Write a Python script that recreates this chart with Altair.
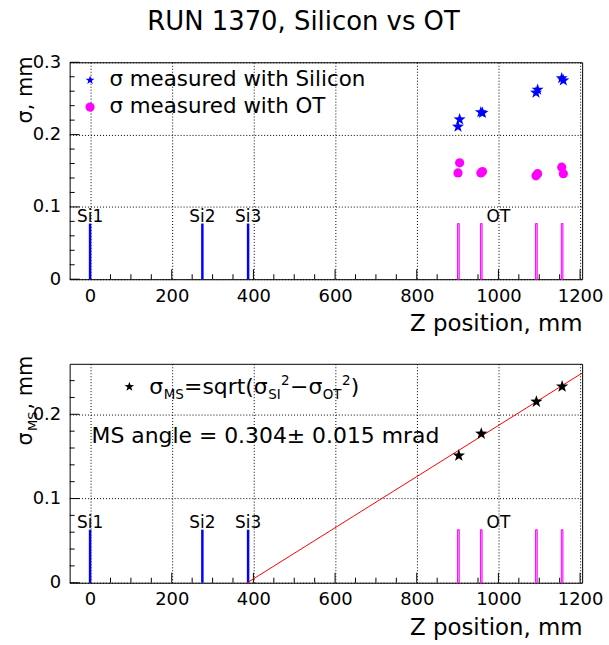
import altair as alt
import pandas as pd

# ---------------- data ----------------
si_names = ["Si1", "Si2", "Si3"]
si_z = [0, 275, 387]
ot_name = "OT"
ot_label_z = 1000
ot_z_start = [900, 956, 1091, 1154]
ot_z_end = [904, 960, 1095, 1158]
meas_z = [901, 905, 957, 961, 1092, 1096, 1155, 1159]
sigma_si = [0.211, 0.221, 0.231, 0.230, 0.258, 0.262, 0.278, 0.275]
sigma_ot = [0.147, 0.161, 0.147, 0.149, 0.143, 0.146, 0.155, 0.146]
ms_z = [903, 958, 1093, 1156]
sigma_ms = [0.151, 0.177, 0.215, 0.233]
fit_z = [385, 1205]
fit_sigma = [0.0, 0.249]
x_major = [0, 200, 400, 600, 800, 1000, 1200]
x_minor = [50, 100, 150, 250, 300, 350, 450, 500, 550, 650, 700, 750,
           850, 900, 950, 1050, 1100, 1150]
y_major_top = [0, 0.1, 0.2, 0.3]
y_minor_top = [0.02, 0.04, 0.06, 0.08, 0.12, 0.14, 0.16, 0.18, 0.22, 0.24, 0.26, 0.28]
y_major_bot = [0, 0.1, 0.2]
y_minor_bot = [0.02, 0.04, 0.06, 0.08, 0.12, 0.14, 0.16, 0.18, 0.22, 0.24]
det_h_top = 0.077
det_h_bot = 0.063
title_text = "RUN 1370, Silicon vs OT"
legend_si = "σ measured with Silicon"
legend_ot = "σ measured with OT"
angle_text = "MS angle = 0.304± 0.015 mrad"
xtitle = "Z position, mm"

# ---------------- style ----------------
FONT = "DejaVu Sans"
W = 515
H1 = 218
H2 = 220
BLUE = "#0000ff"
MAG = "#ff00ff"
STAR = ("M0,-1L0.235,-0.324L0.951,-0.309L0.38,0.124L0.588,0.809L0,0.4"
        "L-0.588,0.809L-0.38,0.124L-0.951,-0.309L-0.235,-0.324Z")

xscale = alt.Scale(domain=[-50, 1205], nice=False, zero=False)
x_axis = alt.Axis(values=x_major, format="d", title=xtitle, titleAnchor="end",
                  grid=True, gridDash=[1, 2], gridColor="black", gridOpacity=1,
                  ticks=False, domain=False, labelPadding=8, titlePadding=8,
                  labelFontSize=18, titleFontSize=23, labelFont=FONT, titleFont=FONT,
                  labelColor="black", titleColor="black", titleFontWeight="normal",
                  labelFlush=False)


def y_axis(vals):
    return alt.Axis(values=vals, format="~g", title=None, grid=True, gridDash=[1, 2],
                    gridColor="black", gridOpacity=1, ticks=False, domain=False,
                    labelPadding=9, labelFontSize=18, labelFont=FONT, labelColor="black",
                    labelFlush=False)


def X():
    return alt.X("z:Q", scale=xscale, axis=x_axis)


def panel(H, ydom, ymaj, ymin, det_h):
    ys = alt.Scale(domain=ydom, nice=False, zero=False)

    def Y():
        return alt.Y("s:Q", scale=ys, axis=y_axis(ymaj))

    layers = []
    # inner ticks
    layers.append(alt.Chart(pd.DataFrame({"z": x_major})).mark_rule(color="black").encode(
        x=X(), y=alt.value(H), y2=alt.value(H - 10)))
    layers.append(alt.Chart(pd.DataFrame({"z": x_minor})).mark_rule(color="black").encode(
        x=X(), y=alt.value(H), y2=alt.value(H - 5)))
    layers.append(alt.Chart(pd.DataFrame({"s": ymaj})).mark_rule(color="black").encode(
        y=Y(), x=alt.value(0), x2=alt.value(10)))
    layers.append(alt.Chart(pd.DataFrame({"s": ymin})).mark_rule(color="black").encode(
        y=Y(), x=alt.value(0), x2=alt.value(5)))
    # detectors
    si_df = pd.DataFrame({"z": si_z, "s": [det_h] * len(si_z), "name": si_names})
    layers.append(alt.Chart(si_df).mark_rule(color=BLUE, strokeWidth=2.5).encode(
        x=X(), y=Y(), y2=alt.value(H)))
    layers.append(alt.Chart(si_df).mark_text(fontSize=17, baseline="alphabetic", dy=-2,
                                             color="black", font=FONT).encode(
        x=X(), y=Y(), text="name:N"))
    ot_df = pd.DataFrame({"z": ot_z_start, "z2": ot_z_end, "s": [det_h] * len(ot_z_start)})
    layers.append(alt.Chart(ot_df).mark_rect(fill="#ffaaff", stroke=MAG, strokeWidth=1).encode(
        x=X(), x2="z2:Q", y=Y(), y2=alt.value(H)))
    layers.append(alt.Chart(pd.DataFrame({"z": [ot_label_z], "s": [det_h], "name": [ot_name]}))
                  .mark_text(fontSize=17, baseline="alphabetic", dy=-2, color="black", font=FONT)
                  .encode(x=X(), y=Y(), text="name:N"))
    return layers, Y


# ---------------- top panel ----------------
top_layers, Yt = panel(H1, [0, 0.3], y_major_top, y_minor_top, det_h_top)
top_layers.append(alt.Chart(pd.DataFrame({"z": meas_z, "s": sigma_ot})).mark_point(
    shape="circle", filled=True, color=MAG, opacity=1, size=85).encode(x=X(), y=Yt()))
top_layers.append(alt.Chart(pd.DataFrame({"z": meas_z, "s": sigma_si})).mark_point(
    shape=STAR, filled=True, color=BLUE, opacity=1, size=160).encode(x=X(), y=Yt()))
# legend
top_layers.append(alt.Chart(pd.DataFrame({"t": [legend_si]})).mark_point(
    shape=STAR, filled=True, color=BLUE, opacity=1, size=90).encode(
    x=alt.value(20.5), y=alt.value(18)))
top_layers.append(alt.Chart(pd.DataFrame({"t": [legend_ot]})).mark_point(
    shape="circle", filled=True, color=MAG, opacity=1, size=85).encode(
    x=alt.value(20.5), y=alt.value(45)))
top_layers.append(alt.Chart(pd.DataFrame({"t": [legend_si]})).mark_text(
    align="left", baseline="middle", fontSize=21.5, font=FONT, color="black").encode(
    x=alt.value(40), y=alt.value(18), text="t:N"))
top_layers.append(alt.Chart(pd.DataFrame({"t": [legend_ot]})).mark_text(
    align="left", baseline="middle", fontSize=21.5, font=FONT, color="black").encode(
    x=alt.value(40), y=alt.value(45), text="t:N"))
# y title
top_layers.append(alt.Chart(pd.DataFrame({"t": ["σ, mm"]})).mark_text(
    align="right", baseline="alphabetic", angle=270, fontSize=21, font=FONT, color="black").encode(
    x=alt.value(-38), y=alt.value(-6), text="t:N"))
# chart title
top_layers.append(alt.Chart(pd.DataFrame({"t": [title_text]})).mark_text(
    align="center", baseline="alphabetic", fontSize=26, font=FONT, color="black").encode(
    x=alt.value(235), y=alt.value(-32), text="t:N"))

top = alt.layer(*top_layers).properties(width=W, height=H1)

# ---------------- bottom panel ----------------
bot_layers, Yb = panel(H2, [0, 0.26], y_major_bot, y_minor_bot, det_h_bot)
bot_layers.append(alt.Chart(pd.DataFrame({"z": fit_z, "s": fit_sigma})).mark_line(
    color="red", strokeWidth=1, clip=True).encode(x=X(), y=Yb()))
bot_layers.append(alt.Chart(pd.DataFrame({"z": ms_z, "s": sigma_ms})).mark_point(
    shape=STAR, filled=True, color="black", opacity=1, size=170).encode(x=X(), y=Yb()))
bot_layers.append(alt.Chart(pd.DataFrame({"t": ["leg"]})).mark_point(
    shape=STAR, filled=True, color="black", opacity=1, size=100).encode(
    x=alt.value(60), y=alt.value(23)))

# formula pieces: (text, x, baseline y, size)
BIG = 22
SMALL = 13.5
base_y = 30
pieces = [
    ("σ", 80, base_y, BIG),
    ("MS", 94.5, base_y + 5, SMALL),
    ("=sqrt(σ", 115, base_y, BIG),
    ("SI", 199.5, base_y + 5, SMALL),
    ("2", 212.5, base_y - 9, SMALL),
    ("−σ", 221.5, base_y, BIG),
    ("OT", 254.3, base_y + 5, SMALL),
    ("2", 273.6, base_y - 9, SMALL),
    (")", 282.6, base_y, BIG),
]
for txt, px, py, fs in pieces:
    bot_layers.append(alt.Chart(pd.DataFrame({"t": [txt]})).mark_text(
        align="left", baseline="alphabetic", fontSize=fs, font=FONT, color="black").encode(
        x=alt.value(px), y=alt.value(py), text="t:N"))

bot_layers.append(alt.Chart(pd.DataFrame({"t": [angle_text]})).mark_text(
    align="left", baseline="middle", fontSize=22, font=FONT, color="black").encode(
    x=alt.value(22), y=alt.value(73), text="t:N"))

# y title pieces (rotated)
ytitle = [("σ", 82, -38, 21), ("MS", 67.5, -33, 13), (", mm", 46, -38, 21)]
for txt, py, px, fs in ytitle:
    bot_layers.append(alt.Chart(pd.DataFrame({"t": [txt]})).mark_text(
        align="left", baseline="alphabetic", angle=270, fontSize=fs, font=FONT,
        color="black").encode(x=alt.value(px), y=alt.value(py), text="t:N"))

bot = alt.layer(*bot_layers).properties(width=W, height=H2)

chart = alt.vconcat(top, bot, spacing=85, bounds="flush").configure(
    padding={"left": 14, "top": 7, "right": 5, "bottom": 5}
).configure_view(stroke="black", strokeWidth=1)

chart.save("out.html", embed_options={"renderer": "svg", "actions": False})
